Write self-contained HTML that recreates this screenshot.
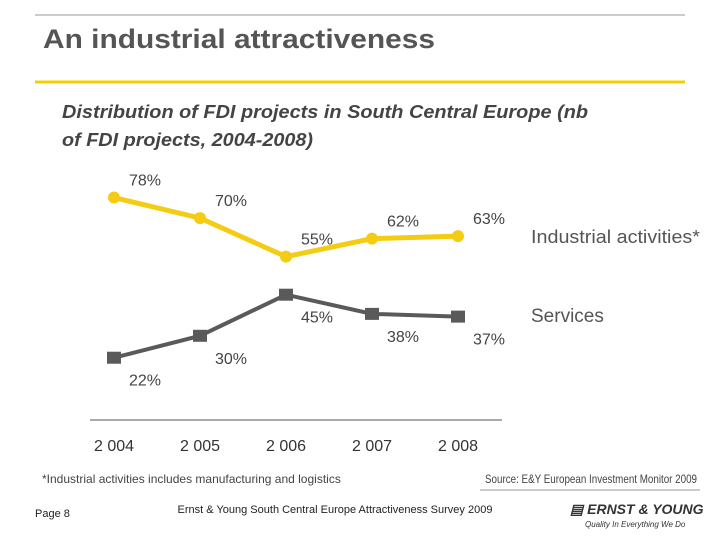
<!DOCTYPE html>
<html><head><meta charset="utf-8"><style>
body{margin:0;background:#fff;width:720px;height:540px;overflow:hidden;font-family:"Liberation Sans",sans-serif}
</style></head><body>
<svg width="720" height="540" font-family="Liberation Sans, sans-serif">
<line x1="35" y1="15" x2="685" y2="15" stroke="#999" stroke-width="1"/>
<text x="43" y="48" font-size="27" font-weight="bold" fill="#555" textLength="392" lengthAdjust="spacingAndGlyphs">An industrial attractiveness</text>
<line x1="35" y1="82" x2="685" y2="82" stroke="#f5d000" stroke-width="3"/>
<text font-size="18" font-weight="bold" font-style="italic" fill="#444"><tspan x="62" y="118" textLength="526" lengthAdjust="spacingAndGlyphs">Distribution of FDI projects in South Central Europe (nb</tspan><tspan x="62" y="146" textLength="251" lengthAdjust="spacingAndGlyphs">of FDI projects, 2004-2008)</tspan></text>
<g id="chart"></g>
<line x1="90" y1="420" x2="502" y2="420" stroke="#555" stroke-width="1"/>
<text x="531" y="243" font-size="18" fill="#555" textLength="169" lengthAdjust="spacingAndGlyphs">Industrial activities*</text>
<text x="531" y="322" font-size="19" fill="#555">Services</text>
<text x="42" y="483" font-size="12" fill="#444">*Industrial activities includes manufacturing and logistics</text>
<text x="697" y="483" font-size="12" fill="#444" text-anchor="end" textLength="212" lengthAdjust="spacingAndGlyphs">Source: E&amp;Y European Investment Monitor 2009</text>
<line x1="480" y1="490" x2="700" y2="490" stroke="#999" stroke-width="1"/>
<text x="35" y="517" font-size="11" fill="#222">Page 8</text>
<text x="335" y="513" font-size="11" fill="#222" text-anchor="middle">Ernst &amp; Young South Central Europe Attractiveness Survey 2009</text>
<text x="570" y="514" font-size="14" font-weight="bold" font-style="italic" fill="#333">▤ ERNST &amp; YOUNG</text>
<text x="585" y="527" font-size="8" font-style="italic" fill="#333">Quality In Everything We Do</text>
</svg>
<script>
const years=["2 004","2 005","2 006","2 007","2 008"];
const industrial=[78,70,55,62,63];
const services=[22,30,45,38,37];
const ns="http://www.w3.org/2000/svg";
const g=document.getElementById('chart');
function xs(i){return 114+i*86;}
function ysInd(v){return 398-v*2.57;}
function ysSrv(v){return 418-v*2.74;}
function mk(t,a){const e=document.createElementNS(ns,t);for(const k in a)e.setAttribute(k,a[k]);g.appendChild(e);return e;}
years.forEach((y,i)=>{const t=mk('text',{x:xs(i),y:451,'font-size':16,fill:'#333','text-anchor':'middle'});t.textContent=y;

});
function series(vals,ys,color,shape,dy,name){
 const p=mk('polyline',{points:vals.map((v,i)=>xs(i)+','+ys(v)).join(' '),fill:'none',stroke:color,'stroke-width':shape==='d'?5:4});
 
 
 vals.forEach((v,i)=>{
  const x=xs(i),y=ys(v);let m;
  if(shape==='d')m=mk('circle',{cx:x,cy:y,r:6,fill:color});
  else m=mk('rect',{x:x-7,y:y-6,width:14,height:12,fill:color});
  
  
  const t=mk('text',{x:x+31,y:y+dy,'font-size':16,fill:'#444','text-anchor':'middle'});t.textContent=v+'%';
  
  
 });
}
series(industrial,ysInd,'#f5cc14','d',-12,'industrial');
series(services,ysSrv,'#5a5a5a','s',28,'services');
</script>
</body></html>
